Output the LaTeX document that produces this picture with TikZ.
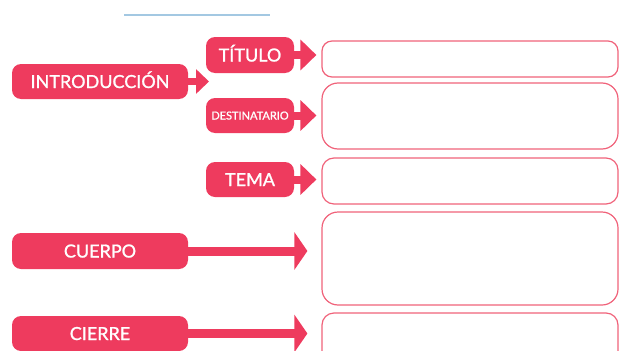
\documentclass[tikz,border=0pt]{standalone}
\usepackage{fontspec}
\setmainfont{Lato}
\newfontfamily\rotulo{Lato}[FakeBold=1.2]
\usetikzlibrary{arrows.meta}

\definecolor{rosa}{HTML}{EE3B5E}
\definecolor{rosaclaro}{HTML}{F0627A}
\definecolor{azul}{HTML}{A3C8E2}

\begin{document}
\begin{tikzpicture}[x=1pt, y=-1pt,
    etiqueta/.style={fill=rosa, rounded corners=9pt, inner sep=0pt, text=white,
        text height=13pt, text depth=0pt, font=\rotulo\fontsize{18}{18}\selectfont},
    respuesta/.style={draw=rosaclaro, line width=1.2pt, rounded corners=#1,
        inner sep=0pt, minimum width=296pt},
    flecha/.style={rosa, line width=8pt, -{Triangle[length=16pt, width=30pt]}}]
    % the page keeps the size of the original sheet
    \useasboundingbox (0,0) rectangle (627,351);

    \draw[azul, line width=2.5pt] (124,15) -- (270,15);

    \node[etiqueta, minimum width=176pt, minimum height=35pt] (intro) at (100,81.5) {INTRODUCCIÓN};
    \node[etiqueta, minimum width=88pt, minimum height=36pt] (titulo) at (250,55) {TÍTULO};
    \node[etiqueta, minimum width=88pt, minimum height=35pt, text height=8pt,
        font=\rotulo\fontsize{11}{11}\selectfont] (destinatario) at (250,115.5) {DESTINATARIO};
    \node[etiqueta, minimum width=88pt, minimum height=35pt] (tema) at (250,179.5) {TEMA};
    \node[etiqueta, minimum width=176pt, minimum height=36pt] (cuerpo) at (100,251) {CUERPO};
    \node[etiqueta, minimum width=176pt, minimum height=35pt] (cierre) at (100,333.5) {CIERRE};

    \node[respuesta=10pt, minimum height=36pt] (r1) at (470,59) {};
    \node[respuesta=16pt, minimum height=66pt] (r2) at (470,116) {};
    \node[respuesta=12pt, minimum height=46pt] (r3) at (470,181) {};
    \node[respuesta=16pt, minimum height=93pt] (r4) at (470,258.5) {};
    \node[respuesta=12pt, minimum height=52pt] (r5) at (470,339) {};

    \coordinate (punta) at (209,84);
    \draw[flecha, line width=7pt, -{Triangle[length=13pt, width=24pt]}] (intro.east) -- (intro.east -| punta);
    \draw[flecha, shorten >=5pt] (titulo.east) -- (titulo.east -| r1.west);
    \draw[flecha, shorten >=5pt] (destinatario.east) -- (destinatario.east -| r2.west);
    \draw[flecha, shorten >=5pt] (tema.east) -- (tema.east -| r3.west);
    \draw[flecha, line width=9pt, -{Triangle[length=13pt, width=37pt]}, shorten >=14pt] (cuerpo.east) -- (cuerpo.east -| r4.west);
    \draw[flecha, line width=9pt, -{Triangle[length=13pt, width=37pt]}, shorten >=14pt] (cierre.east) -- (cierre.east -| r5.west);
\end{tikzpicture}
\end{document}
